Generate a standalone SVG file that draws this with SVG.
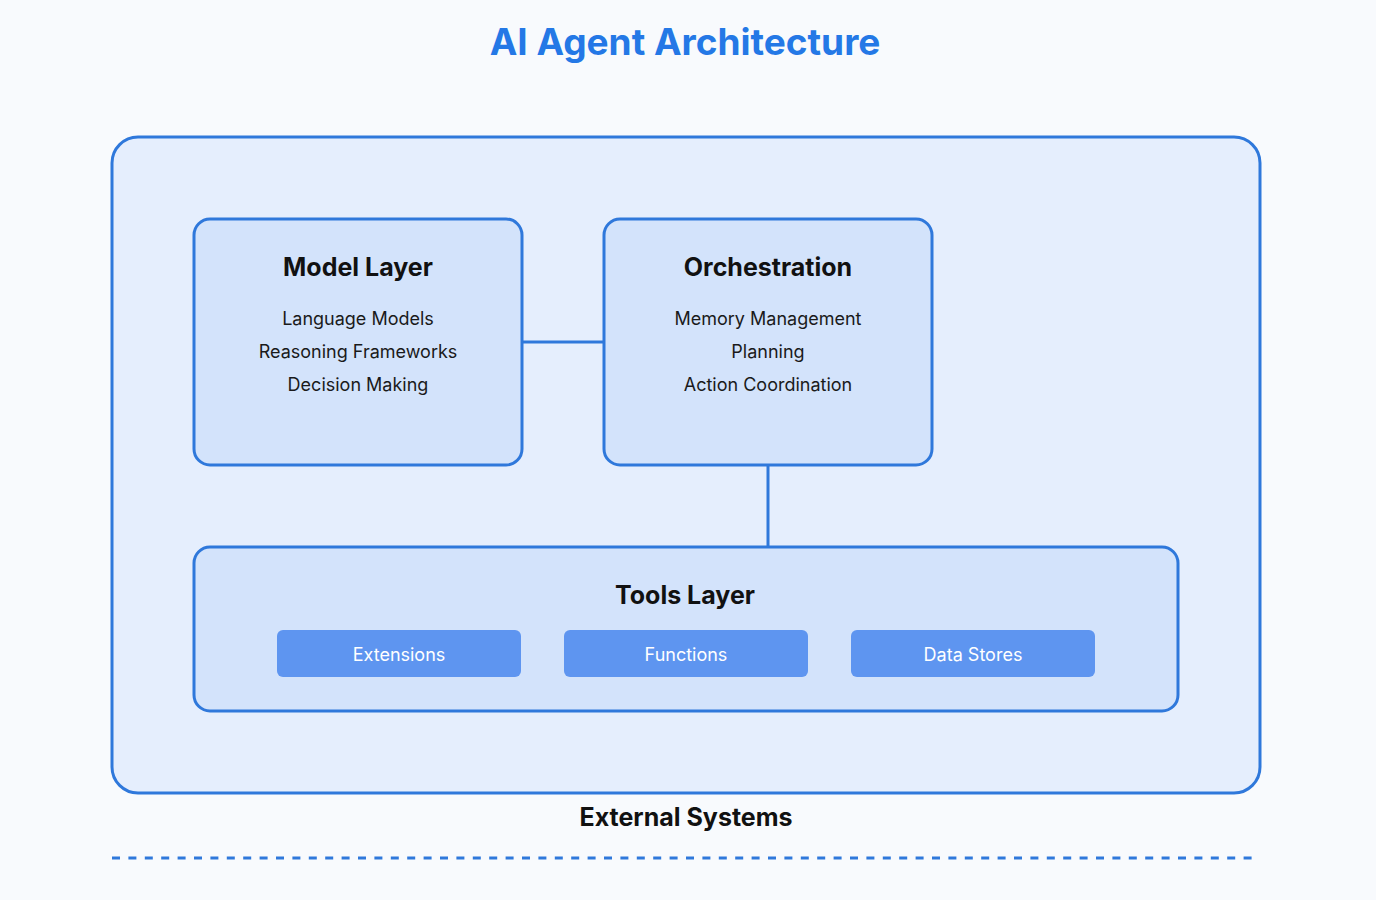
<svg xmlns="http://www.w3.org/2000/svg" width="1376" height="900" viewBox="0 0 1376 900">
<style>
.t{font-family:Inter,"Noto Sans","Liberation Sans",sans-serif;text-anchor:middle}
.title{font-size:37px;font-weight:700;fill:#2478e6}
.h{font-size:25px;font-weight:700;fill:#111}
.item{font-size:18px;fill:#1a1a1a}
.btn{font-size:18px;fill:#ffffff}
.box{fill:#d3e3fb;stroke:#2f78db;stroke-width:3}
.b{fill:#5e95f0}
.line{stroke:#2f78db;stroke-width:3;fill:none}
</style>
<rect width="1376" height="900" fill="#f8fafd"/>
<text class="t title" x="685" y="55">AI Agent Architecture</text>
<g id="outer">
<rect x="112" y="137" width="1148" height="656" rx="26" fill="#e5eefd" stroke="#2f78db" stroke-width="3"/>
</g>
<g id="connectors">
<line class="line" x1="522" y1="342" x2="604" y2="342"/>
<line class="line" x1="768" y1="465" x2="768" y2="547"/>
</g>
<g id="model-layer">
<rect class="box" x="194" y="219" width="328" height="246" rx="16"/>
<text class="t h" x="358" y="276">Model Layer</text>
<text class="t item" x="358" y="325">Language Models</text>
<text class="t item" x="358" y="358">Reasoning Frameworks</text>
<text class="t item" x="358" y="391">Decision Making</text>
</g>
<g id="orchestration">
<rect class="box" x="604" y="219" width="328" height="246" rx="16"/>
<text class="t h" x="768" y="276">Orchestration</text>
<text class="t item" x="768" y="325">Memory Management</text>
<text class="t item" x="768" y="358">Planning</text>
<text class="t item" x="768" y="391">Action Coordination</text>
</g>
<g id="tools-layer">
<rect class="box" x="194" y="547" width="984" height="164" rx="16"/>
<text class="t h" x="685" y="604">Tools Layer</text>
</g>
<g id="extensions">
<rect class="b" x="277" y="630" width="244" height="47" rx="6"/>
<text class="t btn" x="399" y="661">Extensions</text>
</g>
<g id="functions">
<rect class="b" x="564" y="630" width="244" height="47" rx="6"/>
<text class="t btn" x="686" y="661">Functions</text>
</g>
<g id="data-stores">
<rect class="b" x="851" y="630" width="244" height="47" rx="6"/>
<text class="t btn" x="973" y="661">Data Stores</text>
</g>
<g id="external-systems">
<text class="t h" x="686" y="826">External Systems</text>
<line x1="112" y1="858" x2="1254" y2="858" stroke="#2f78db" stroke-width="3" stroke-dasharray="8 8.4"/>
</g>
</svg>
